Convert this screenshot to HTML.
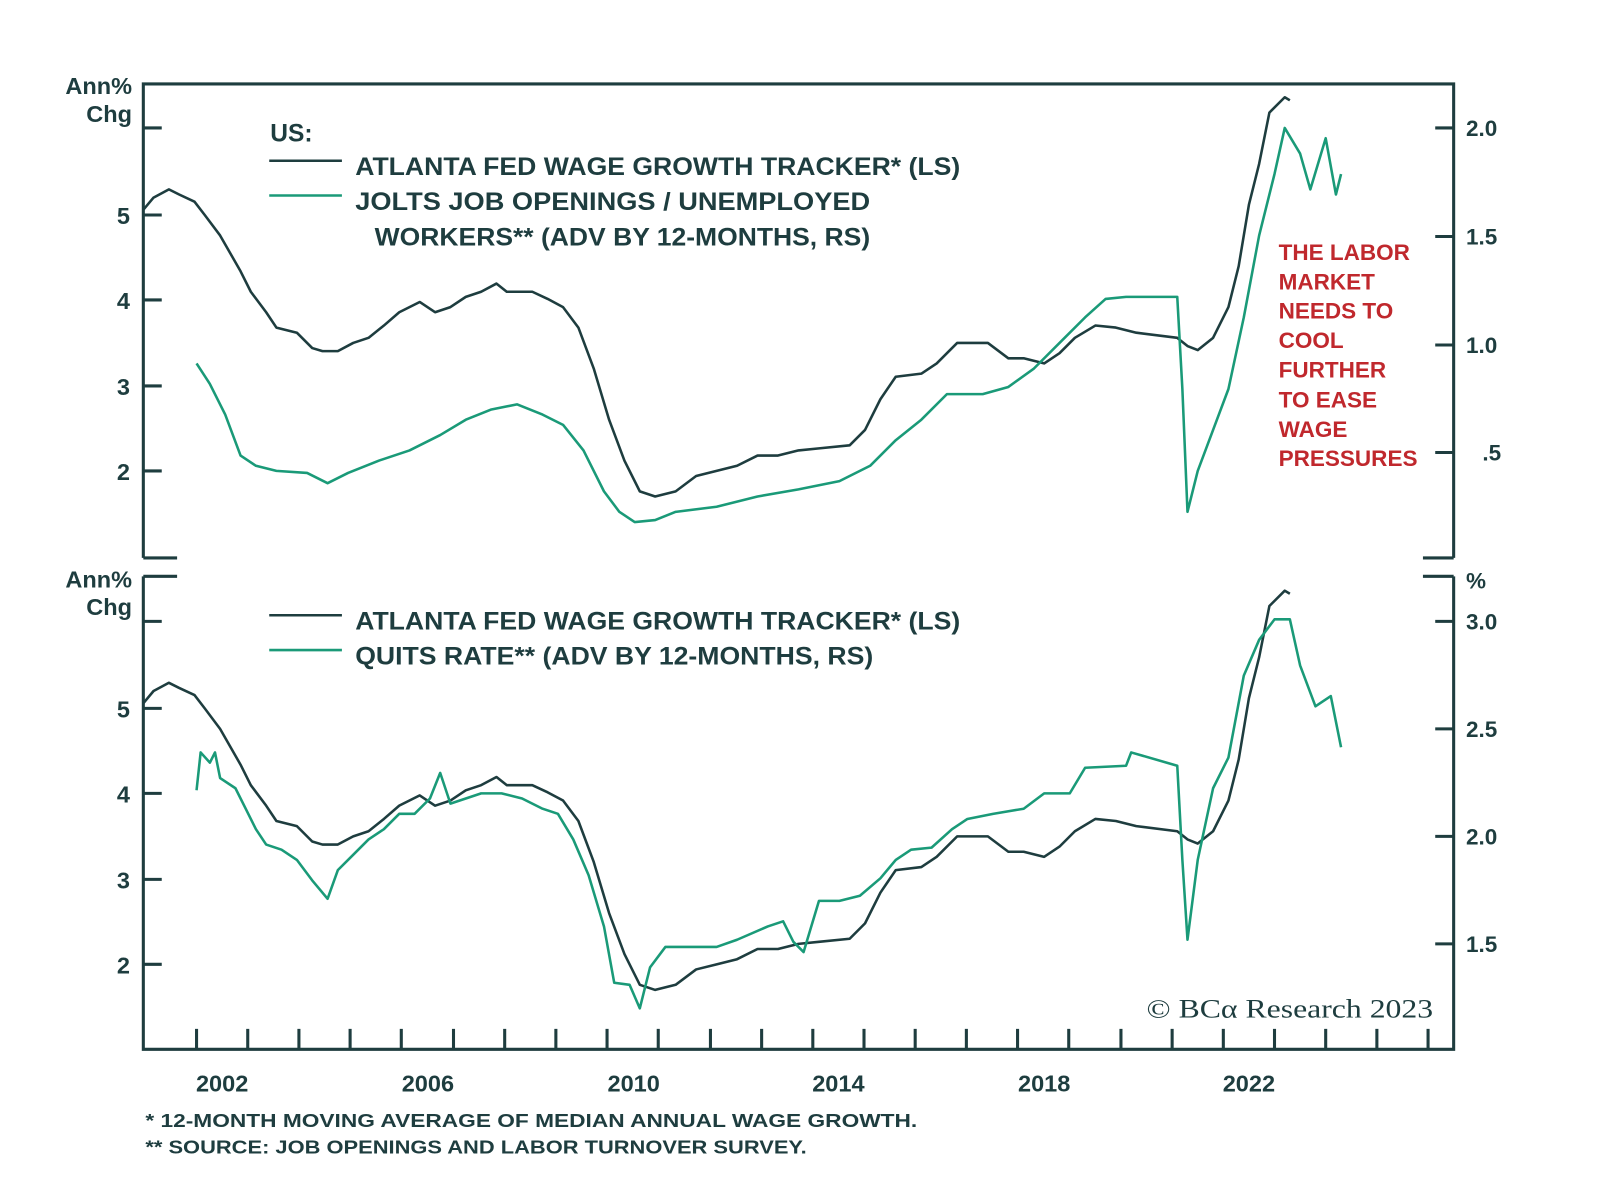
<!DOCTYPE html>
<html><head><meta charset="utf-8"><style>
html,body{margin:0;padding:0;background:#fff;}
svg{display:block;font-family:"Liberation Sans",sans-serif;font-weight:bold;}
</style></head><body>
<svg width="1600" height="1204" viewBox="0 0 1600 1204" xmlns="http://www.w3.org/2000/svg">
<g transform="scale(1.0237)">
<g stroke="#1e3d3f" stroke-width="3" fill="none">
<path d="M140,545 V82 H1420 V545"/>
<path d="M140,545 H173 M1390,545 H1420"/>
<path d="M140,125 H158 M140,210 H158 M140,293 H158 M140,377 H158 M140,460 H158"/>
<path d="M1402,125 H1420 M1402,231 H1420 M1402,337 H1420 M1402,442 H1420"/>
<path d="M140,563 H173 M1390,563 H1420"/>
<path d="M140,563 V1025 H1420 V563"/>
<path d="M140,607 H158 M140,692 H158 M140,775 H158 M140,859 H158 M140,942 H158"/>
<path d="M1402,607 H1420 M1402,712 H1420 M1402,817 H1420 M1402,922 H1420"/>
<path d="M192,1025V1005 M242,1025V1005 M292,1025V1005 M342,1025V1005 M392,1025V1005 M443,1025V1005 M493,1025V1005 M543,1025V1005 M593,1025V1005 M643,1025V1005 M694,1025V1005 M744,1025V1005 M794,1025V1005 M844,1025V1005 M894,1025V1005 M944,1025V1005 M994,1025V1005 M1044,1025V1005 M1095,1025V1005 M1145,1025V1005 M1195,1025V1005 M1245,1025V1005 M1295,1025V1005 M1345,1025V1005 M1395,1025V1005"/>
</g>
<g fill="none" stroke-width="2.5" stroke-linejoin="round">
<polyline stroke="#1e3d3f" points="140,205 150,193 165,185 175,190 190,197 200,210 215,230 235,265 245,285 260,305 270,320 290,325 305,340 315,343 330,343 345,335 360,330 375,318 390,305 410,295 425,305 440,300 455,290 470,285 485,277 495,285 520,285 535,292 550,300 565,320 580,360 595,410 610,450 625,480 640,485 660,480 680,465 700,460 720,455 740,445 760,445 780,440 800,438 830,435 845,420 860,390 875,368 900,365 915,355 935,335 965,335 985,350 1000,350 1020,355 1035,345 1050,330 1070,318 1090,320 1110,325 1150,330 1160,338 1170,342 1185,330 1200,300 1210,260 1220,200 1230,160 1240,110 1255,95 1260,98"/>
<polyline stroke="#1e3d3f" transform="translate(0,482)" points="140,205 150,193 165,185 175,190 190,197 200,210 215,230 235,265 245,285 260,305 270,320 290,325 305,340 315,343 330,343 345,335 360,330 375,318 390,305 410,295 425,305 440,300 455,290 470,285 485,277 495,285 520,285 535,292 550,300 565,320 580,360 595,410 610,450 625,480 640,485 660,480 680,465 700,460 720,455 740,445 760,445 780,440 800,438 830,435 845,420 860,390 875,368 900,365 915,355 935,335 965,335 985,350 1000,350 1020,355 1035,345 1050,330 1070,318 1090,320 1110,325 1150,330 1160,338 1170,342 1185,330 1200,300 1210,260 1220,200 1230,160 1240,110 1255,95 1260,98"/>
<polyline stroke="#1a9a78" points="192,355 205,375 220,405 235,445 250,455 270,460 300,462 320,472 340,462 370,450 400,440 430,425 455,410 480,400 505,395 530,405 550,415 570,440 590,480 605,500 620,510 640,508 660,500 700,495 740,485 780,478 820,470 850,455 875,430 900,410 925,385 960,385 985,378 1010,360 1040,330 1060,310 1080,292 1100,290 1130,290 1150,290 1155,380 1160,500 1170,460 1185,420 1200,380 1215,310 1230,230 1245,170 1255,125 1270,150 1280,185 1295,135 1305,190 1310,170"/>
<polyline stroke="#1a9a78" points="192,772 196,735 205,745 210,735 215,760 230,770 240,790 250,810 260,825 275,830 290,840 305,860 320,878 330,850 345,835 360,820 375,810 390,795 405,795 420,780 430,755 440,785 455,780 470,775 490,775 510,780 530,790 545,795 560,820 575,855 590,905 600,960 615,962 625,985 635,945 650,925 670,925 700,925 720,918 750,905 765,900 775,920 785,930 800,880 820,880 840,875 860,858 875,840 890,830 910,828 930,810 945,800 970,795 1000,790 1020,775 1045,775 1060,750 1100,748 1105,735 1150,748 1155,840 1160,918 1170,840 1185,770 1200,740 1215,660 1230,625 1245,605 1260,605 1270,650 1285,690 1300,680 1310,730"/>
</g>
<g stroke-width="2.5"><path d="M263,157 H334" stroke="#1e3d3f"/><path d="M263,191 H334" stroke="#1a9a78"/>
<path d="M263,601 H334" stroke="#1e3d3f"/><path d="M263,635 H334" stroke="#1a9a78"/></g>
<g fill="#1e3d3f" font-size="24">
<text x="264" y="138">US:</text>
<text x="347" y="171" textLength="591" lengthAdjust="spacingAndGlyphs">ATLANTA FED WAGE GROWTH TRACKER* (LS)</text>
<text x="347" y="205" textLength="503" lengthAdjust="spacingAndGlyphs">JOLTS JOB OPENINGS / UNEMPLOYED</text>
<text x="366" y="240" textLength="484" lengthAdjust="spacingAndGlyphs">WORKERS** (ADV BY 12-MONTHS, RS)</text>
<text x="347" y="615" textLength="591" lengthAdjust="spacingAndGlyphs">ATLANTA FED WAGE GROWTH TRACKER* (LS)</text>
<text x="347" y="649" textLength="506" lengthAdjust="spacingAndGlyphs">QUITS RATE** (ADV BY 12-MONTHS, RS)</text>
</g>
<g fill="#1e3d3f" font-size="23" text-anchor="end">
<text x="129" y="92">Ann%</text><text x="129" y="119">Chg</text>
<text x="127" y="219">5</text><text x="127" y="302">4</text><text x="127" y="386">3</text><text x="127" y="469">2</text>
<text x="129" y="574">Ann%</text><text x="129" y="601">Chg</text>
<text x="127" y="701">5</text><text x="127" y="784">4</text><text x="127" y="868">3</text><text x="127" y="951">2</text>
</g>
<g fill="#1e3d3f" font-size="22">
<text x="1432" y="133">2.0</text><text x="1432" y="239">1.5</text><text x="1432" y="345">1.0</text><text x="1448" y="450">.5</text>
<text x="1432" y="575">%</text>
<text x="1432" y="615">3.0</text><text x="1432" y="720">2.5</text><text x="1432" y="825">2.0</text><text x="1432" y="930">1.5</text>
</g>
<g fill="#1e3d3f" font-size="23" text-anchor="middle">
<text x="217" y="1066">2002</text><text x="418" y="1066">2006</text><text x="619" y="1066">2010</text><text x="819" y="1066">2014</text><text x="1020" y="1066">2018</text><text x="1220" y="1066">2022</text>
</g>
<g fill="#1e3d3f" font-size="18">
<text x="142" y="1101" textLength="754" lengthAdjust="spacingAndGlyphs">*  12-MONTH MOVING AVERAGE OF MEDIAN ANNUAL WAGE GROWTH.</text>
<text x="142" y="1127" textLength="646" lengthAdjust="spacingAndGlyphs">** SOURCE: JOB OPENINGS AND LABOR TURNOVER SURVEY.</text>
</g>
<g fill="#c0282d" font-size="22">
<text x="1249" y="254">THE LABOR</text><text x="1249" y="283">MARKET</text><text x="1249" y="311">NEEDS TO</text><text x="1249" y="340">COOL</text><text x="1249" y="369">FURTHER</text><text x="1249" y="398">TO EASE</text><text x="1249" y="427">WAGE</text><text x="1249" y="455">PRESSURES</text>
</g>
<text x="1120" y="994" fill="#1e3d3f" font-size="26" font-weight="normal" font-family="Liberation Serif, serif" textLength="280" lengthAdjust="spacingAndGlyphs">© BCα Research 2023</text>
</g>
</svg>
</body></html>
